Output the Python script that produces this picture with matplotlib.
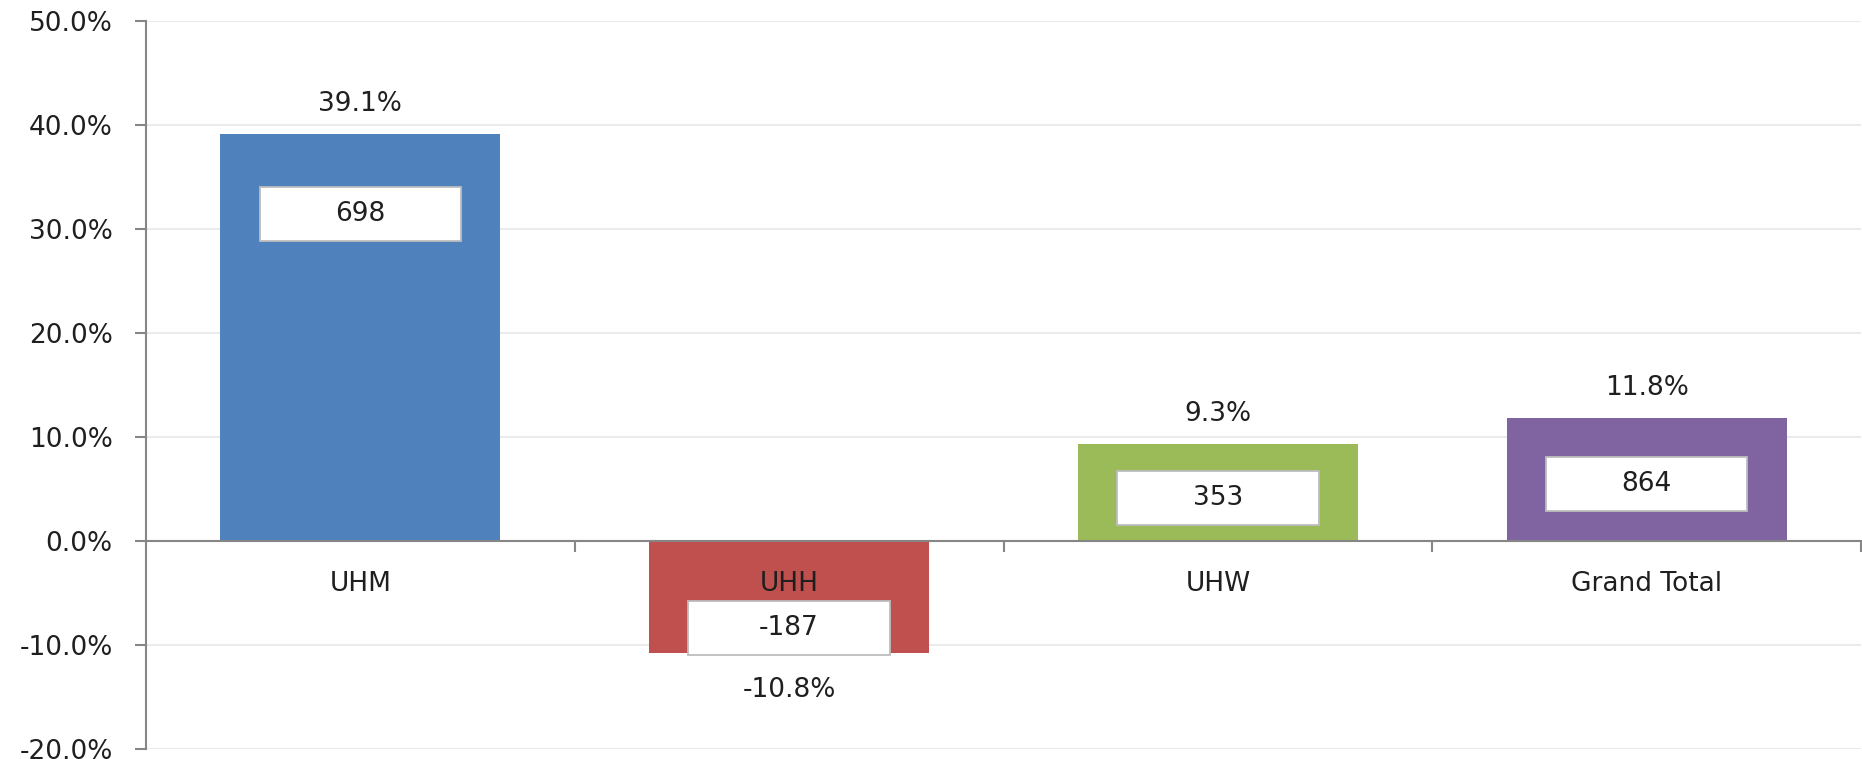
import matplotlib
matplotlib.use('Agg')
import matplotlib.pyplot as plt
from matplotlib.patches import Rectangle
from matplotlib.ticker import FixedLocator, FuncFormatter

# ---- data ----
categories = ['UHM', 'UHH', 'UHW', 'Grand Total']
pct_change = [39.1, -10.8, 9.3, 11.8]
abs_change = [698, -187, 353, 864]
bar_colors = ['#4F81BD', '#C0504D', '#9BBB59', '#8064A2']
y_ticks = [-20, -10, 0, 10, 20, 30, 40, 50]

# ---- layout (positions of the white value boxes, in % units) ----
box_centre = [31.4, -8.4, 4.1, 5.5]
BOX_W = 0.47
BOX_H = 5.2
BAR_W = 0.653
FS = 19
TXT = '#1f1f1f'
AXC = '#868686'

plt.rcParams['font.family'] = ['DejaVu Sans']

fig = plt.figure(figsize=(18.62, 7.59), dpi=100)
ax = fig.add_axes([146 / 1862, 10 / 759, 1715 / 1862, 728 / 759])

x = list(range(len(categories)))
ax.bar(x, pct_change, width=BAR_W, color=bar_colors, zorder=2)

for i, (p, a, c) in enumerate(zip(pct_change, abs_change, box_centre)):
    ax.add_patch(Rectangle((i - BOX_W / 2, c - BOX_H / 2), BOX_W, BOX_H,
                           facecolor='white', edgecolor='#bdbdbd', lw=1.3, zorder=3))
    ax.text(i, c, f'{a}', ha='center', va='center', fontsize=FS, color=TXT, zorder=4)
    off = 21.5 if p >= 0 else -26.5
    ax.annotate(f'{p:.1f}%', xy=(i, p), xytext=(0, off), textcoords='offset points',
                ha='center', va='center', fontsize=FS, color=TXT, zorder=4)
    ax.annotate(categories[i], xy=(i, 0), xytext=(0, -31), textcoords='offset points',
                ha='center', va='center', fontsize=FS, color=TXT, zorder=4)

ax.set_xlim(-0.5, 3.5)
ax.set_ylim(-20, 50)

ax.yaxis.set_major_locator(FixedLocator(y_ticks))
ax.yaxis.set_major_formatter(FuncFormatter(lambda v, _: f'{v:.1f}%'))
ax.xaxis.set_major_locator(FixedLocator([0.5, 1.5, 2.5, 3.5]))
ax.xaxis.set_major_formatter(FuncFormatter(lambda v, _: ''))

ax.yaxis.grid(True, color='#ebebeb', lw=1.5, zorder=0)
ax.set_axisbelow(True)

for s in ['top', 'right']:
    ax.spines[s].set_visible(False)
ax.spines['bottom'].set_position(('data', 0))
for s in ['left', 'bottom']:
    ax.spines[s].set_color(AXC)
    ax.spines[s].set_linewidth(1.5)
    ax.spines[s].set_zorder(3)

ax.tick_params(axis='y', direction='out', length=8, width=1.5, color=AXC,
               labelsize=FS, labelcolor=TXT, pad=16)
ax.tick_params(axis='x', direction='out', length=8, width=1.5, color=AXC)

fig.savefig('out.png', dpi=100)
